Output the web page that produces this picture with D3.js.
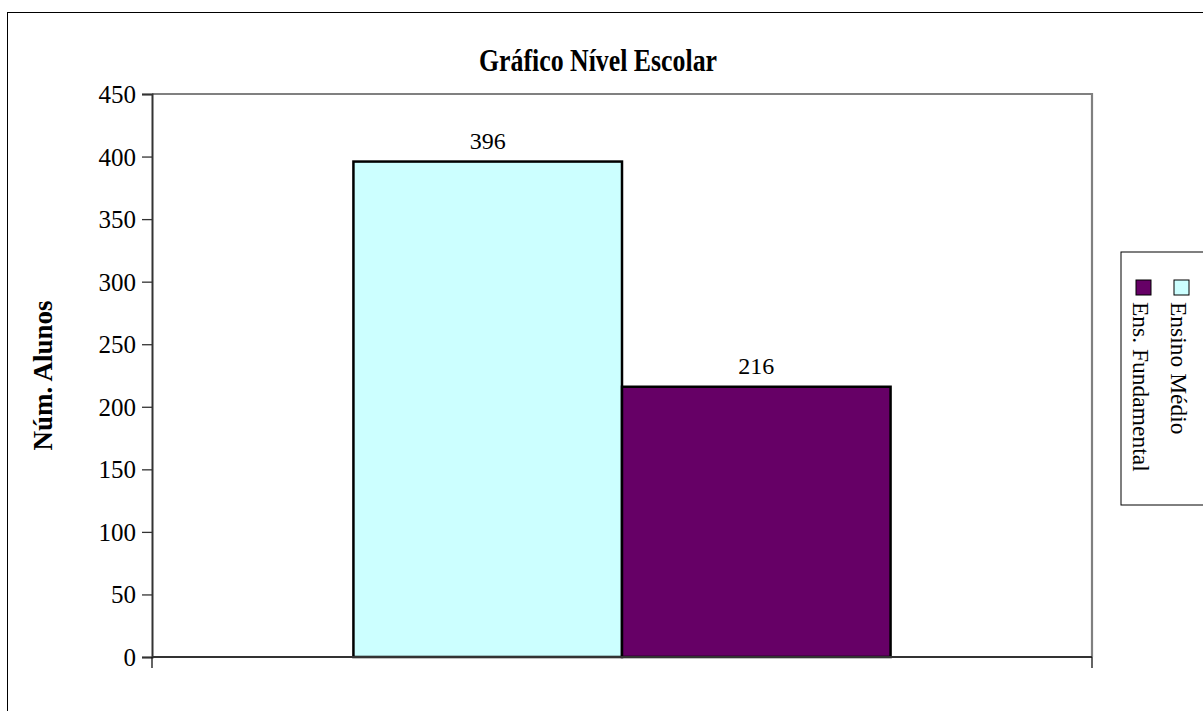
<!DOCTYPE html>
<html>
<head>
<meta charset="utf-8">
<script src="https://cdn.jsdelivr.net/npm/d3@7"></script>
<style>
  html, body { margin: 0; padding: 0; background: #fff; }
  svg { display: block; }
  text { font-family: "Liberation Serif", "Times New Roman", "DejaVu Serif", serif; fill: #000; }
</style>
</head>
<body>
<svg id="chart" width="1203" height="711"></svg>
<script>
// Chart data
const categories = [""];
const seriesNames = ["Ensino Médio", "Ens. Fundamental"];
const seriesValues = [396, 216];
const seriesColors = ["#CCFFFF", "#660066"];
const yTicks = [0, 50, 100, 150, 200, 250, 300, 350, 400, 450];
const chartTitle = "Gráfico Nível Escolar";
const yTitle = "Núm. Alunos";

const svg = d3.select("#chart");

// Plot-area geometry
const plot = { left: 152, right: 1092, top: 94, bottom: 657 };

// Outer chart frame (continues past the right and bottom edges)
svg.append("rect")
  .attr("x", 7.5).attr("y", 12.5)
  .attr("width", 1230).attr("height", 730)
  .attr("fill", "none").attr("stroke", "#000").attr("stroke-width", 1);

const y = d3.scaleLinear().domain([0, 450]).range([plot.bottom, plot.top]);
const x0 = d3.scaleBand().domain(categories)
  .range([plot.left, plot.right]).paddingInner(0).paddingOuter(0.375);
const x1 = d3.scaleBand().domain(seriesNames).range([0, x0.bandwidth()]).padding(0);

// Plot-area frame: grey top and right
svg.append("path")
  .attr("d", `M${plot.left},${plot.top}H${plot.right}V${plot.bottom}`)
  .attr("fill", "none").attr("stroke", "#808080").attr("stroke-width", 2.2);

// Bars
const rows = seriesNames.map((name, i) => ({ cat: categories[0], name, value: seriesValues[i], color: seriesColors[i] }));
svg.append("g").selectAll("rect").data(rows).join("rect")
  .attr("x", d => x0(d.cat) + x1(d.name))
  .attr("y", d => y(d.value))
  .attr("width", x1.bandwidth())
  .attr("height", d => y(0) - y(d.value))
  .attr("fill", d => d.color)
  .attr("stroke", "#000").attr("stroke-width", 2.5);

// Value labels
svg.append("g").selectAll("text").data(rows).join("text")
  .attr("x", d => x0(d.cat) + x1(d.name) + x1.bandwidth() / 2)
  .attr("y", d => y(d.value) - 13)
  .attr("text-anchor", "middle")
  .attr("font-size", 24)
  .text(d => d.value);

// Y axis
const yAxis = svg.append("g")
  .attr("transform", `translate(${plot.left},0)`)
  .call(d3.axisLeft(y).tickValues(yTicks).tickSize(10).tickPadding(6).tickFormat(d3.format("d")));
yAxis.select(".domain").attr("stroke", "#333").attr("stroke-width", 2);
yAxis.selectAll(".tick line").attr("stroke", "#333").attr("stroke-width", 1.3);
yAxis.selectAll(".tick text")
  .attr("font-size", 25)
  .attr("font-family", "Liberation Serif, Times New Roman, serif")
  .attr("fill", "#000")
  .attr("dy", "0.34em");

// X axis baseline with end ticks
svg.append("line")
  .attr("x1", plot.left).attr("x2", plot.right)
  .attr("y1", y(0)).attr("y2", y(0))
  .attr("stroke", "#333").attr("stroke-width", 2.2);
svg.append("g").selectAll("line").data(x0.range()).join("line")
  .attr("x1", d => d).attr("x2", d => d)
  .attr("y1", y(0)).attr("y2", y(0) + 11)
  .attr("stroke", "#111").attr("stroke-width", 1.3);

// Title
svg.append("text")
  .attr("x", 598).attr("y", 71)
  .attr("text-anchor", "middle")
  .attr("font-size", 31).attr("font-weight", "bold")
  .attr("textLength", 238).attr("lengthAdjust", "spacingAndGlyphs")
  .text(chartTitle);

// Y-axis title
svg.append("text")
  .attr("transform", `translate(52,${(plot.top + plot.bottom) / 2}) rotate(-90)`)
  .attr("text-anchor", "middle")
  .attr("font-size", 27).attr("font-weight", "bold")
  .text(yTitle);

// Legend (rotated)
const legend = svg.append("g");
legend.append("rect")
  .attr("x", 1121).attr("y", 252)
  .attr("width", 120).attr("height", 253)
  .attr("fill", "#fff").attr("stroke", "#000").attr("stroke-width", 1);

const legendCols = [1171, 1133];
const items = legend.selectAll("g.item").data(rows).join("g").attr("class", "item");
items.append("rect")
  .attr("x", (d, i) => legendCols[i] + 3)
  .attr("y", 280)
  .attr("width", 15).attr("height", 15)
  .attr("fill", d => d.color)
  .attr("stroke", "#000").attr("stroke-width", 1);
items.append("text")
  .attr("transform", (d, i) => `translate(${legendCols[i]},302) rotate(90)`)
  .attr("font-size", 23.5)
  .text(d => d.name);
</script>
</body>
</html>
